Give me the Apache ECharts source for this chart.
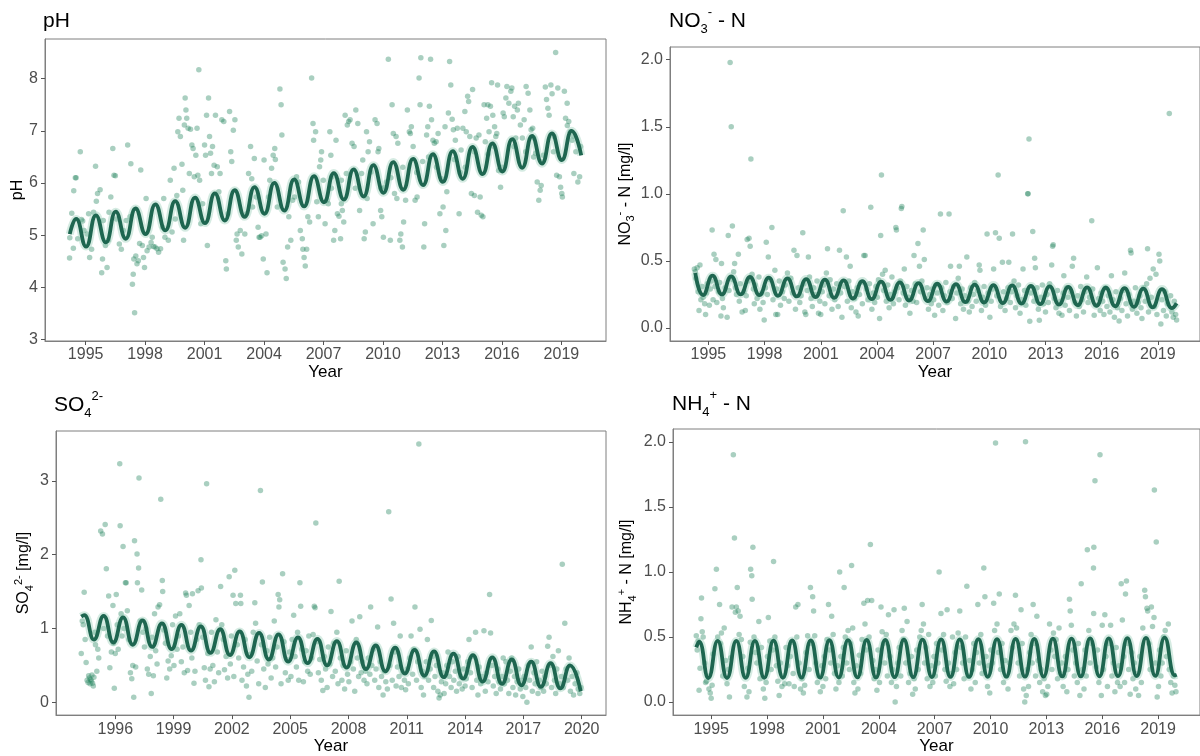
<!DOCTYPE html>
<html><head><meta charset="utf-8">
<script src="https://cdn.jsdelivr.net/npm/echarts@6/dist/echarts.min.js"></script>
<style>html,body{margin:0;padding:0;background:#fff}#c{width:1200px;height:756px}</style>
</head><body><div id="c"></div>
<script>
// ---------- tick labels ----------
const xTicksA = [1995,1998,2001,2004,2007,2010,2013,2016,2019];
const xTicksB = [1996,1999,2002,2005,2008,2011,2014,2017,2020];
const phTicks = [3,4,5,6,7,8];
const no3Ticks = [0,0.5,1,1.5,2];
const so4Ticks = [0,1,2,3];
const nh4Ticks = [0,0.5,1,1.5,2];

// ---------- pH ----------
const phPts = [[1994.19,4.56],[1994.2,4.95],[1994.3,5.42],[1994.4,5.85],[1994.48,6.1],[1994.52,6.1],[1994.38,4.75],[1994.6,4.93],[1994.73,6.6],[1994.79,5.3],[1994.85,5.27],[1994.92,5.09],[1995.08,5.02],[1995.2,4.57],[1995.3,4.73],[1995.15,5.41],[1995.4,5.44],[1995.5,6.32],[1995.54,5.65],[1995.6,5.8],[1995.73,5.87],[1995.85,4.54],[1995.81,4.28],[1995.89,5.28],[1996.0,4.8],[1996.08,4.38],[1996.14,4.9],[1996.18,5.44],[1996.27,5.73],[1996.37,6.66],[1996.43,6.15],[1996.5,6.14],[1996.56,5.31],[1996.7,4.83],[1996.8,4.73],[1996.9,5.09],[1997.12,6.73],[1997.05,5.28],[1997.24,5.35],[1997.28,6.37],[1997.36,4.06],[1997.4,4.25],[1997.43,4.54],[1997.47,3.51],[1997.53,4.6],[1997.59,4.45],[1997.66,4.51],[1997.72,4.84],[1997.78,6.25],[1997.86,4.8],[1997.92,4.57],[1997.97,4.38],[1998.05,5.7],[1998.1,4.7],[1998.2,4.77],[1998.3,4.86],[1998.36,4.96],[1998.42,4.78],[1998.5,4.77],[1998.6,4.74],[1998.68,4.67],[1998.78,4.74],[1998.88,5.15],[1998.94,5.7],[1999.0,4.96],[1999.17,4.9],[1999.27,6.05],[1999.36,5.06],[1999.46,6.28],[1999.52,5.31],[1999.6,5.76],[1999.65,6.98],[1999.71,7.24],[1999.78,6.89],[1999.86,6.36],[1999.9,5.86],[1999.94,4.9],[1999.98,7.11],[2000.02,7.63],[2000.06,7.4],[2000.1,7.24],[2000.17,7.05],[2000.23,6.18],[2000.29,7.03],[2000.36,6.73],[2000.42,6.66],[2000.48,6.12],[2000.56,6.53],[2000.62,7.05],[2000.66,6.15],[2000.71,8.17],[2000.75,6.05],[2000.81,5.22],[2000.9,5.6],[2001.0,6.73],[2001.05,6.53],[2001.1,7.3],[2001.14,4.8],[2001.2,7.63],[2001.25,6.89],[2001.3,6.57],[2001.35,6.18],[2001.4,6.7],[2001.48,6.34],[2001.55,7.3],[2001.64,6.31],[2001.72,5.83],[2001.78,6.18],[2001.87,7.21],[2001.97,7.18],[2002.07,4.51],[2002.1,4.35],[2002.18,5.41],[2002.26,7.37],[2002.32,6.6],[2002.37,6.41],[2002.45,7.01],[2002.53,7.21],[2002.6,4.9],[2002.64,5.02],[2002.7,4.77],[2002.8,5.09],[2002.88,4.64],[2003.03,5.02],[2003.12,5.41],[2003.22,6.18],[2003.32,6.7],[2003.38,6.08],[2003.42,5.54],[2003.51,6.47],[2003.61,5.73],[2003.7,5.15],[2003.75,4.96],[2003.8,4.96],[2003.88,4.99],[2003.96,4.54],[2004.0,6.44],[2004.1,5.02],[2004.15,4.28],[2004.23,5.73],[2004.29,6.05],[2004.38,6.28],[2004.46,6.53],[2004.54,6.66],[2004.57,6.45],[2004.67,5.54],[2004.8,7.8],[2004.86,7.5],[2004.9,6.92],[2004.96,4.48],[2005.06,4.35],[2005.12,4.17],[2005.19,4.77],[2005.25,5.35],[2005.35,4.9],[2005.44,5.67],[2005.54,5.73],[2005.64,6.12],[2005.74,6.02],[2005.83,5.09],[2005.93,4.93],[2005.96,4.73],[2006.02,4.57],[2006.08,4.41],[2006.15,4.73],[2006.21,5.35],[2006.3,5.25],[2006.4,8.01],[2006.47,7.14],[2006.5,6.82],[2006.6,6.98],[2006.66,5.64],[2006.74,5.35],[2006.8,6.31],[2006.86,6.44],[2006.9,6.6],[2006.99,6.05],[2007.08,5.22],[2007.18,5.67],[2007.24,5.6],[2007.32,6.98],[2007.37,6.53],[2007.43,6.12],[2007.51,4.9],[2007.57,5.09],[2007.63,6.82],[2007.7,5.41],[2007.78,5.36],[2007.86,4.93],[2007.9,6.05],[2007.95,5.47],[2008.02,5.25],[2008.09,7.3],[2008.15,6.18],[2008.2,7.11],[2008.27,7.18],[2008.34,7.21],[2008.44,6.76],[2008.54,6.7],[2008.63,7.4],[2008.73,7.14],[2008.82,5.47],[2008.92,6.18],[2008.98,6.44],[2009.05,4.93],[2009.11,5.06],[2009.17,6.98],[2009.25,6.6],[2009.32,6.79],[2009.4,6.21],[2009.5,5.22],[2009.6,7.21],[2009.7,7.14],[2009.75,6.6],[2009.79,6.66],[2009.88,5.47],[2009.94,5.35],[2010.02,4.96],[2010.08,5.92],[2010.18,6.02],[2010.27,8.37],[2010.37,4.9],[2010.46,7.5],[2010.52,6.95],[2010.58,5.8],[2010.66,6.89],[2010.75,6.76],[2010.85,4.9],[2010.9,5.02],[2010.98,4.77],[2011.04,5.25],[2011.14,5.67],[2011.23,7.4],[2011.33,6.98],[2011.38,6.95],[2011.43,7.08],[2011.52,6.7],[2011.62,5.67],[2011.72,5.73],[2011.82,8.01],[2011.87,7.5],[2011.91,8.4],[2012.0,6.41],[2012.06,4.77],[2012.1,5.22],[2012.2,6.92],[2012.26,7.08],[2012.34,7.47],[2012.4,8.37],[2012.45,7.21],[2012.52,6.82],[2012.59,6.76],[2012.68,6.79],[2012.78,6.95],[2012.87,5.41],[2012.96,6.08],[2013.03,5.54],[2013.07,4.8],[2013.13,7.08],[2013.17,5.09],[2013.22,5.83],[2013.3,7.34],[2013.36,8.33],[2013.42,7.88],[2013.49,7.22],[2013.55,7.02],[2013.65,6.82],[2013.75,7.05],[2013.84,5.41],[2013.94,6.63],[2014.03,7.05],[2014.13,7.37],[2014.2,6.98],[2014.27,7.66],[2014.32,7.56],[2014.38,6.89],[2014.46,5.8],[2014.52,7.79],[2014.61,5.76],[2014.7,6.86],[2014.77,5.44],[2014.84,6.92],[2014.9,5.73],[2014.96,5.38],[2015.04,5.35],[2015.1,7.5],[2015.16,6.79],[2015.23,7.24],[2015.29,7.5],[2015.35,6.98],[2015.42,7.47],[2015.48,7.92],[2015.54,7.3],[2015.63,7.08],[2015.69,6.89],[2015.74,6.95],[2015.78,7.88],[2015.83,6.24],[2015.93,5.92],[2016.06,7.34],[2016.12,7.27],[2016.2,7.63],[2016.25,7.85],[2016.35,7.53],[2016.45,7.76],[2016.5,7.82],[2016.57,7.27],[2016.64,7.47],[2016.7,6.86],[2016.78,7.4],[2016.83,7.53],[2016.93,7.11],[2017.03,6.86],[2017.12,7.21],[2017.22,7.85],[2017.32,7.72],[2017.41,7.4],[2017.47,7.02],[2017.55,7.05],[2017.61,6.86],[2017.7,6.57],[2017.78,6.02],[2017.86,5.67],[2017.93,5.86],[2017.98,5.95],[2018.09,6.53],[2018.19,7.84],[2018.25,7.6],[2018.32,7.43],[2018.38,7.3],[2018.47,7.88],[2018.53,7.71],[2018.63,6.89],[2018.71,8.5],[2018.76,6.15],[2018.82,7.82],[2018.9,6.12],[2018.96,5.92],[2019.02,5.8],[2019.05,5.73],[2019.15,7.76],[2019.21,7.24],[2019.29,7.53],[2019.37,7.18],[2019.44,6.98],[2019.54,6.82],[2019.63,6.18],[2019.73,6.6],[2019.83,6.02],[2019.92,6.12],[2019.97,6.7],[2010.4,6.1],[2011.0,6.3],[2011.7,6.2],[2012.3,6.5],[2012.7,6.3],[2013.6,6.45],[2013.9,6.2],[2014.6,6.6],[2014.15,6.3],[2015.3,6.55],[2015.6,6.7],[2016.0,6.3],[2016.6,6.7],[2017.2,6.6],[2017.6,6.5],[2018.0,6.4],[2018.6,6.6],[2019.3,7.1],[2019.6,6.9],[2009.2,5.7],[2009.9,5.9],[2010.7,5.7],[2008.6,5.9],[2007.9,5.6],[2007.4,5.9]];
const phFit = [[1994.2,5.02],[1994.52,5.31],[1995.02,4.78],[1995.52,5.38],[1996.02,4.86],[1996.52,5.45],[1997.02,4.93],[1997.52,5.51],[1998.02,5.02],[1998.52,5.59],[1999.02,5.09],[1999.52,5.65],[2000.02,5.14],[2000.52,5.72],[2001.02,5.23],[2001.52,5.8],[2002.02,5.28],[2002.52,5.86],[2003.02,5.35],[2003.52,5.92],[2004.02,5.41],[2004.52,6.0],[2005.02,5.47],[2005.52,6.07],[2006.02,5.55],[2006.52,6.13],[2007.02,5.63],[2007.52,6.19],[2008.02,5.68],[2008.52,6.26],[2009.02,5.74],[2009.52,6.34],[2010.02,5.81],[2010.52,6.4],[2011.02,5.87],[2011.52,6.46],[2012.02,5.96],[2012.52,6.55],[2013.02,6.02],[2013.52,6.61],[2014.02,6.08],[2014.52,6.69],[2015.02,6.17],[2015.52,6.76],[2016.02,6.22],[2016.52,6.84],[2017.02,6.29],[2017.52,6.9],[2018.02,6.37],[2018.52,6.95],[2019.02,6.44],[2019.52,7.0],[2020.0,6.53]];

// ---------- NO3- - N ----------
const no3Pts = [[1994.25,0.44],[1994.3,0.42],[1994.33,0.37],[1994.4,0.45],[1994.45,0.27],[1994.5,0.13],[1994.55,0.47],[1994.6,0.21],[1994.67,0.31],[1994.72,0.23],[1994.8,0.18],[1994.85,0.1],[1994.9,0.26],[1994.95,0.33],
[1995.05,0.17],[1995.1,0.29],[1995.15,0.35],[1995.2,0.73],[1995.25,0.21],[1995.3,0.55],[1995.35,0.31],[1995.4,0.51],[1995.45,0.19],[1995.55,0.27],[1995.6,0.34],[1995.67,0.09],[1995.7,0.48],[1995.75,0.22],[1995.8,0.15],[1995.9,0.3],
[1996.0,0.08],[1996.06,0.69],[1996.1,0.28],[1996.16,1.98],[1996.22,1.5],[1996.28,0.76],[1996.3,0.36],[1996.35,0.42],[1996.4,0.48],[1996.45,0.3],[1996.5,0.25],[1996.6,0.55],[1996.65,0.2],[1996.7,0.33],[1996.8,0.12],[1996.9,0.27],[1996.97,0.13],
[1997.02,0.24],[1997.07,0.66],[1997.12,0.35],[1997.17,0.67],[1997.23,0.61],[1997.27,1.26],[1997.33,0.4],[1997.4,0.29],[1997.45,0.18],[1997.5,0.32],[1997.6,0.22],[1997.7,0.38],[1997.75,0.14],[1997.85,0.26],[1997.92,0.19],[1997.98,0.06],
[1998.05,0.3],[1998.09,0.64],[1998.15,0.25],[1998.2,0.53],[1998.3,0.36],[1998.39,0.75],[1998.45,0.21],[1998.55,0.43],[1998.6,0.1],[1998.65,0.29],[1998.7,0.1],[1998.78,0.35],[1998.85,0.17],[1998.95,0.27],
[1999.05,0.22],[1999.1,0.32],[1999.22,0.41],[1999.3,0.2],[1999.4,0.37],[1999.5,0.26],[1999.57,0.58],[1999.65,0.14],[1999.73,0.54],[1999.8,0.3],[1999.88,0.19],[1999.95,0.24],
[2000.04,0.71],[2000.1,0.33],[2000.15,0.12],[2000.2,0.1],[2000.28,0.28],[2000.34,0.53],[2000.4,0.38],[2000.48,0.22],[2000.55,0.16],[2000.62,0.3],[2000.7,0.25],[2000.8,0.35],[2000.88,0.11],[2000.95,0.2],
[2001.0,0.1],[2001.08,0.27],[2001.15,0.32],[2001.22,0.18],[2001.3,0.41],[2001.36,0.59],[2001.45,0.24],[2001.5,0.36],[2001.6,0.14],[2001.68,0.29],[2001.75,0.21],[2001.85,0.33],[2001.93,0.16],
[2002.0,0.58],[2002.06,0.26],[2002.13,0.08],[2002.2,0.875],[2002.27,0.31],[2002.37,0.53],[2002.42,0.2],[2002.5,0.35],[2002.57,0.46],[2002.63,0.15],[2002.7,0.27],[2002.8,0.22],[2002.88,0.12],[2002.95,0.3],
[2003.0,0.09],[2003.07,0.25],[2003.15,0.34],[2003.22,0.18],[2003.3,0.54],[2003.37,0.54],[2003.45,0.29],[2003.52,0.21],[2003.6,0.33],[2003.67,0.9],[2003.73,0.14],[2003.8,0.26],[2003.88,0.19],[2003.95,0.31],
[2004.02,0.23],[2004.08,0.36],[2004.14,0.07],[2004.2,0.69],[2004.24,1.14],[2004.3,0.4],[2004.36,0.28],[2004.44,0.43],[2004.5,0.2],[2004.58,0.32],[2004.65,0.15],[2004.72,0.25],[2004.8,0.38],[2004.88,0.18],[2004.95,0.27],
[2005.01,0.75],[2005.04,0.73],[2005.1,0.3],[2005.18,0.21],[2005.25,0.35],[2005.3,0.89],[2005.33,0.905],[2005.4,0.26],[2005.46,0.44],[2005.52,0.17],[2005.6,0.31],[2005.68,0.23],[2005.76,0.11],[2005.84,0.28],[2005.92,0.2],[2005.98,0.54],
[2006.05,0.33],[2006.12,0.19],[2006.19,0.63],[2006.27,0.46],[2006.33,0.27],[2006.4,0.35],[2006.47,0.73],[2006.53,0.51],[2006.6,0.22],[2006.68,0.3],[2006.75,0.14],[2006.82,0.25],[2006.9,0.18],[2006.96,0.29],
[2007.03,0.21],[2007.08,0.095],[2007.15,0.32],[2007.22,0.26],[2007.3,0.17],[2007.39,0.85],[2007.45,0.3],[2007.52,0.13],[2007.6,0.24],[2007.68,0.34],[2007.75,0.19],[2007.85,0.85],[2007.9,0.27],[2007.93,0.46],
[2008.02,0.22],[2008.1,0.31],[2008.2,0.07],[2008.27,0.26],[2008.34,0.37],[2008.4,0.46],[2008.47,0.18],[2008.55,0.29],[2008.62,0.14],[2008.7,0.24],[2008.8,0.53],[2008.86,0.2],[2008.93,0.12],
[2009.0,0.3],[2009.08,0.16],[2009.15,0.25],[2009.22,0.34],[2009.3,0.2],[2009.38,0.28],[2009.46,0.47],[2009.5,0.43],[2009.58,0.13],[2009.65,0.23],[2009.72,0.31],[2009.8,0.17],[2009.88,0.7],[2009.95,0.26],
[2010.03,0.08],[2010.1,0.2],[2010.17,0.29],[2010.23,0.44],[2010.33,0.71],[2010.4,0.24],[2010.47,1.14],[2010.53,0.67],[2010.6,0.16],[2010.7,0.49],[2010.76,0.27],[2010.84,0.13],[2010.92,0.22],
[2011.0,0.3],[2011.04,0.49],[2011.12,0.19],[2011.2,0.27],[2011.24,0.7],[2011.32,0.35],[2011.4,0.15],[2011.48,0.24],[2011.56,0.32],[2011.64,0.11],[2011.72,0.21],[2011.8,0.44],[2011.88,0.28],[2011.95,0.17],
[2012.05,1.0],[2012.07,1.0],[2012.12,1.41],[2012.16,0.05],[2012.22,0.26],[2012.32,0.72],[2012.38,0.2],[2012.42,0.52],[2012.46,0.45],[2012.55,0.3],[2012.62,0.14],[2012.67,0.057],[2012.75,0.23],[2012.83,0.32],[2012.9,0.18],
[2013.0,0.12],[2013.08,0.25],[2013.15,0.19],[2013.22,0.33],[2013.33,0.47],[2013.38,0.61],[2013.41,0.62],[2013.48,0.22],[2013.56,0.15],[2013.64,0.28],[2013.72,0.11],[2013.8,0.2],[2013.88,0.095],[2013.95,0.26],[2013.98,0.39],
[2014.05,0.17],[2014.12,0.3],[2014.2,0.23],[2014.28,0.13],[2014.36,0.27],[2014.43,0.46],[2014.5,0.52],[2014.58,0.19],[2014.65,0.09],[2014.72,0.24],[2014.8,0.16],[2014.88,0.31],[2014.95,0.21],
[2015.03,0.12],[2015.1,0.27],[2015.2,0.38],[2015.27,0.19],[2015.35,0.23],[2015.47,0.8],[2015.52,0.29],[2015.6,0.095],[2015.68,0.17],[2015.77,0.45],[2015.84,0.22],[2015.92,0.13],[2015.97,0.26],
[2016.05,0.2],[2016.12,0.1],[2016.2,0.3],[2016.28,0.16],[2016.36,0.24],[2016.44,0.12],[2016.52,0.39],[2016.6,0.21],[2016.68,0.08],[2016.76,0.27],[2016.84,0.15],[2016.93,0.052],
[2017.0,0.22],[2017.08,0.13],[2017.16,0.28],[2017.23,0.41],[2017.3,0.18],[2017.38,0.09],[2017.45,0.25],[2017.54,0.58],[2017.57,0.56],[2017.64,0.14],[2017.72,0.2],[2017.8,0.3],[2017.88,0.11],[2017.95,0.19],
[2018.04,0.24],[2018.1,0.15],[2018.15,0.07],[2018.25,0.3],[2018.32,0.2],[2018.4,0.33],[2018.45,0.59],[2018.5,0.12],[2018.58,0.37],[2018.65,0.23],[2018.75,0.44],[2018.82,0.16],[2018.9,0.4],[2018.95,0.1],
[2019.06,0.55],[2019.1,0.5],[2019.16,0.03],[2019.22,0.21],[2019.3,0.13],[2019.38,0.27],[2019.45,0.09],[2019.52,0.18],[2019.61,1.6],[2019.68,0.24],[2019.75,0.12],[2019.82,0.08],[2019.88,0.2],[2019.95,0.1],[2020.0,0.06]];
const no3Fit = [[1994.3,0.41],[1994.72,0.245],[1995.22,0.39],[1995.72,0.25],[1996.22,0.385],[1996.72,0.25],[1997.22,0.38],[1997.72,0.245],[1998.22,0.375],[1998.72,0.24],[1999.22,0.37],[1999.72,0.235],[2000.22,0.365],[2000.72,0.23],[2001.22,0.36],[2001.72,0.225],[2002.22,0.355],[2002.72,0.22],[2003.22,0.35],[2003.72,0.215],[2004.22,0.345],[2004.72,0.21],[2005.22,0.34],[2005.72,0.205],[2006.22,0.335],[2006.72,0.2],[2007.22,0.33],[2007.72,0.197],[2008.22,0.327],[2008.72,0.193],[2009.22,0.323],[2009.72,0.19],[2010.22,0.32],[2010.72,0.186],[2011.22,0.317],[2011.72,0.182],[2012.22,0.313],[2012.72,0.178],[2013.22,0.31],[2013.72,0.174],[2014.22,0.307],[2014.72,0.17],[2015.22,0.303],[2015.72,0.166],[2016.22,0.3],[2016.72,0.162],[2017.22,0.297],[2017.72,0.158],[2018.22,0.294],[2018.72,0.154],[2019.22,0.29],[2019.75,0.148],[2020.0,0.185]];

// ---------- SO4 2- ----------
const so4Pts = [[1994.25,0.66],[1994.3,1.1],[1994.35,1.05],[1994.4,1.49],[1994.45,0.85],[1994.5,0.54],[1994.55,0.3],[1994.6,0.27],[1994.63,0.36],[1994.67,0.33],[1994.7,0.25],[1994.73,0.31],[1994.77,0.29],[1994.8,0.37],[1994.83,0.26],[1994.87,0.22],[1994.9,0.34],[1994.95,0.95],[1994.98,0.78],
[1995.05,0.42],[1995.1,0.72],[1995.15,0.6],[1995.25,2.32],[1995.34,2.28],[1995.4,1.0],[1995.48,2.41],[1995.54,1.81],[1995.6,0.9],[1995.66,1.44],[1995.72,0.47],[1995.8,0.68],[1995.88,1.31],[1995.95,0.19],[1995.9,0.8],
[1996.0,0.66],[1996.05,1.46],[1996.1,1.05],[1996.15,0.72],[1996.23,3.23],[1996.25,2.39],[1996.3,1.2],[1996.35,0.9],[1996.4,2.11],[1996.45,1.0],[1996.52,1.62],[1996.56,1.62],[1996.62,1.24],[1996.7,0.85],[1996.78,0.4],[1996.85,0.32],[1996.9,0.5],[1996.95,0.07],[1996.99,2.19],
[1997.05,0.48],[1997.12,2.01],[1997.14,1.62],[1997.2,1.82],[1997.22,3.04],[1997.28,1.1],[1997.36,1.52],[1997.42,0.95],[1997.5,0.75],[1997.58,1.0],[1997.65,0.45],[1997.72,0.38],[1997.8,0.62],[1997.85,0.12],[1997.9,0.88],[1997.96,0.36],
[1998.02,1.2],[1998.08,0.7],[1998.15,0.52],[1998.2,1.29],[1998.28,1.32],[1998.34,2.75],[1998.42,1.65],[1998.44,1.5],[1998.5,0.98],[1998.58,0.8],[1998.65,0.33],[1998.72,0.56],[1998.8,0.45],[1998.88,0.63],[1998.95,1.05],
[1999.02,0.5],[1999.1,1.17],[1999.18,0.72],[1999.25,0.9],[1999.32,1.2],[1999.4,0.55],[1999.48,0.75],[1999.55,0.4],[1999.62,1.48],[1999.66,1.45],[1999.72,0.43],[1999.8,1.31],[1999.88,0.95],[1999.94,0.6],[1999.97,1.47],
[2000.05,0.26],[2000.1,0.42],[2000.18,0.85],[2000.26,1.51],[2000.32,1.05],[2000.41,1.93],[2000.43,1.55],[2000.5,0.88],[2000.58,0.47],[2000.64,0.3],[2000.7,2.96],[2000.76,0.66],[2000.82,0.21],[2000.88,0.45],[2000.95,0.95],
[2001.02,0.5],[2001.1,0.28],[2001.18,1.12],[2001.25,0.68],[2001.32,0.4],[2001.42,1.57],[2001.48,1.05],[2001.56,0.85],[2001.62,0.44],[2001.7,0.62],[2001.78,0.33],[2001.86,1.7],[2001.92,0.52],[2001.97,0.9],
[2002.06,1.45],[2002.1,0.35],[2002.15,1.79],[2002.2,1.34],[2002.28,0.78],[2002.35,0.6],[2002.44,1.45],[2002.46,1.34],[2002.52,0.3],[2002.6,0.48],[2002.68,0.85],[2002.75,0.22],[2002.82,0.38],[2002.88,0.07],[2002.95,0.65],
[2003.02,0.42],[2003.1,0.95],[2003.18,1.35],[2003.22,1.07],[2003.3,0.56],[2003.38,0.25],[2003.47,2.87],[2003.52,0.78],[2003.57,1.63],[2003.64,0.45],[2003.72,0.2],[2003.8,0.7],[2003.86,0.52],[2003.94,0.88],
[2004.02,0.33],[2004.1,0.6],[2004.18,1.1],[2004.25,0.48],[2004.32,0.75],[2004.38,1.46],[2004.42,1.29],[2004.46,1.39],[2004.53,0.25],[2004.61,1.74],[2004.68,0.82],[2004.75,0.4],[2004.82,0.58],[2004.9,0.3],[2004.96,0.68],
[2005.04,0.35],[2005.1,0.85],[2005.18,1.18],[2005.25,0.62],[2005.32,0.48],[2005.38,0.95],[2005.44,0.3],[2005.5,1.62],[2005.54,1.3],[2005.6,0.72],[2005.68,0.28],[2005.75,0.55],[2005.82,0.7],[2005.9,0.42],[2005.96,0.9],
[2006.03,0.38],[2006.1,0.6],[2006.18,0.92],[2006.24,1.3],[2006.28,1.28],[2006.32,2.43],[2006.38,0.82],[2006.45,0.4],[2006.52,0.58],[2006.6,0.3],[2006.68,0.16],[2006.75,0.62],[2006.82,0.45],[2006.9,0.2],[2006.96,0.75],
[2007.04,0.52],[2007.1,1.23],[2007.18,0.35],[2007.25,0.8],[2007.32,0.42],[2007.4,0.95],[2007.46,0.25],[2007.52,1.64],[2007.58,0.6],[2007.66,0.3],[2007.73,0.5],[2007.8,0.18],[2007.88,0.7],[2007.95,0.38],
[2008.02,0.28],[2008.1,0.55],[2008.18,1.1],[2008.25,0.45],[2008.32,0.15],[2008.4,0.85],[2008.46,0.6],[2008.52,0.35],[2008.58,1.16],[2008.65,0.4],[2008.72,0.55],[2008.8,0.3],[2008.88,0.42],[2008.95,0.25],
[2009.02,0.6],[2009.1,0.38],[2009.14,1.29],[2009.2,0.5],[2009.28,0.72],[2009.35,0.3],[2009.42,0.45],[2009.5,1.02],[2009.56,0.2],[2009.64,0.55],[2009.7,0.35],[2009.78,0.1],[2009.85,0.42],[2009.92,0.28],
[2010.0,0.18],[2010.07,2.58],[2010.12,0.5],[2010.19,1.4],[2010.25,0.3],[2010.32,1.07],[2010.38,0.68],[2010.45,0.22],[2010.52,0.48],[2010.6,0.35],[2010.66,0.9],[2010.72,0.2],[2010.8,0.4],[2010.88,0.3],[2010.94,0.17],
[2011.02,0.45],[2011.08,0.25],[2011.15,0.6],[2011.22,0.9],[2011.3,0.38],[2011.36,0.72],[2011.42,1.29],[2011.5,0.3],[2011.56,0.55],[2011.62,3.5],[2011.68,0.99],[2011.74,0.2],[2011.8,0.42],[2011.86,0.1],[2011.92,0.35],
[2012.0,0.55],[2012.06,0.85],[2012.12,0.3],[2012.2,0.45],[2012.26,1.11],[2012.32,0.62],[2012.38,0.2],[2012.45,0.35],[2012.52,0.5],[2012.6,0.15],[2012.66,0.06],[2012.72,0.1],[2012.78,0.28],[2012.85,0.4],[2012.92,0.12],
[2013.0,0.25],[2013.06,0.5],[2013.12,0.68],[2013.2,0.35],[2013.28,0.2],[2013.35,0.55],[2013.42,0.3],[2013.5,0.42],[2013.56,0.15],[2013.64,0.62],[2013.7,0.25],[2013.78,0.35],[2013.85,0.18],[2013.92,0.45],
[2014.0,0.22],[2014.06,0.32],[2014.14,0.55],[2014.2,0.85],[2014.28,0.4],[2014.36,0.2],[2014.44,0.62],[2014.54,0.95],[2014.6,0.3],[2014.66,0.1],[2014.72,0.48],[2014.8,0.25],[2014.88,0.35],[2014.97,0.97],
[2015.04,0.15],[2015.1,0.4],[2015.18,0.28],[2015.26,1.46],[2015.31,0.94],[2015.38,0.5],[2015.45,0.22],[2015.52,0.35],[2015.6,0.12],[2015.68,0.45],[2015.75,0.28],[2015.82,0.18],[2015.9,0.35],[2015.96,0.6],
[2016.02,0.25],[2016.1,0.55],[2016.18,0.3],[2016.25,0.12],[2016.32,0.42],[2016.4,0.6],[2016.46,0.2],[2016.54,0.35],[2016.6,0.1],[2016.68,0.28],[2016.76,0.45],[2016.84,0.18],[2016.9,0.3],[2016.97,0.08],
[2017.04,0.35],[2017.12,0.2],[2017.18,0.0],[2017.25,0.5],[2017.32,0.3],[2017.4,0.75],[2017.46,0.15],[2017.54,0.4],[2017.6,0.25],[2017.68,0.55],[2017.75,0.12],[2017.82,0.3],[2017.9,0.2],[2017.96,0.42],
[2018.04,0.15],[2018.1,0.35],[2018.18,0.25],[2018.25,0.76],[2018.32,0.88],[2018.38,0.5],[2018.45,0.2],[2018.52,0.62],[2018.6,0.3],[2018.66,0.12],[2018.72,0.45],[2018.8,0.7],[2018.88,0.25],[2018.95,0.35],
[2019.0,1.87],[2019.05,0.2],[2019.13,1.07],[2019.2,0.45],[2019.28,0.3],[2019.35,0.6],[2019.42,0.15],[2019.5,0.35],[2019.58,0.1],[2019.66,0.25],[2019.75,0.4],[2019.82,0.18],[2019.9,0.12],[2019.96,0.2]];
const so4Fit = [[1994.25,1.16],[1994.4,1.18],[1994.9,0.85],[1995.4,1.17],[1995.9,0.81],[1996.4,1.15],[1996.9,0.78],[1997.4,1.11],[1997.9,0.75],[1998.4,1.07],[1998.9,0.72],[1999.4,1.05],[1999.9,0.7],[2000.4,1.03],[2000.9,0.67],[2001.4,0.99],[2001.9,0.64],[2002.4,0.96],[2002.9,0.61],[2003.4,0.94],[2003.9,0.58],[2004.4,0.92],[2004.9,0.55],[2005.4,0.88],[2005.9,0.53],[2006.4,0.86],[2006.9,0.5],[2007.4,0.83],[2007.9,0.47],[2008.4,0.81],[2008.9,0.45],[2009.4,0.77],[2009.9,0.42],[2010.4,0.74],[2010.9,0.39],[2011.4,0.71],[2011.9,0.36],[2012.4,0.69],[2012.9,0.34],[2013.4,0.66],[2013.9,0.32],[2014.4,0.64],[2014.9,0.28],[2015.4,0.61],[2015.9,0.25],[2016.4,0.58],[2016.9,0.23],[2017.4,0.55],[2017.9,0.21],[2018.4,0.53],[2018.9,0.19],[2019.4,0.5],[2019.95,0.15]];

// ---------- NH4+ - N ----------
const nh4Pts = [[1994.2,0.51],[1994.25,0.4],[1994.3,0.47],[1994.35,0.09],[1994.4,0.26],[1994.45,0.64],[1994.48,0.8],[1994.52,0.54],[1994.57,0.5],[1994.65,0.3],[1994.7,0.15],[1994.75,0.16],[1994.8,0.2],[1994.88,0.1],[1994.95,0.07],
[1995.0,0.03],[1995.05,0.13],[1995.1,0.37],[1995.2,0.87],[1995.28,1.02],[1995.35,0.5],[1995.45,0.75],[1995.5,0.45],[1995.55,0.53],[1995.62,0.2],[1995.7,0.57],[1995.78,0.32],[1995.85,0.14],[1995.92,0.25],[1995.98,0.04],
[1996.05,0.34],[1996.12,0.73],[1996.19,1.9],[1996.25,1.26],[1996.3,0.69],[1996.35,0.73],[1996.4,0.88],[1996.45,0.7],[1996.5,0.52],[1996.55,0.66],[1996.62,0.48],[1996.7,0.35],[1996.78,0.12],[1996.85,0.2],[1996.92,0.04],[1996.97,0.26],
[1997.03,0.08],[1997.1,0.46],[1997.12,1.02],[1997.18,0.97],[1997.2,0.79],[1997.24,1.19],[1997.3,0.5],[1997.38,0.38],[1997.45,0.3],[1997.56,0.62],[1997.62,0.18],[1997.7,0.42],[1997.8,0.1],[1997.88,0.03],[1997.95,0.15],
[1998.02,0.35],[1998.07,0.65],[1998.15,0.47],[1998.22,0.25],[1998.3,0.4],[1998.35,1.08],[1998.42,0.5],[1998.5,0.28],[1998.58,0.16],[1998.65,0.05],[1998.72,0.3],[1998.8,0.12],[1998.88,0.2],[1998.95,0.14],
[1999.02,0.42],[1999.1,0.28],[1999.18,0.14],[1999.25,0.35],[1999.32,0.46],[1999.4,0.22],[1999.46,0.12],[1999.54,0.73],[1999.6,0.5],[1999.66,0.75],[1999.72,0.3],[1999.8,0.1],[1999.88,0.18],[1999.95,0.07],
[2000.02,0.13],[2000.1,0.38],[2000.18,0.51],[2000.26,0.25],[2000.33,0.88],[2000.4,0.45],[2000.45,0.81],[2000.5,0.7],[2000.56,0.51],[2000.62,0.3],[2000.7,0.15],[2000.78,0.2],[2000.86,0.08],[2000.94,0.28],
[2001.0,0.12],[2001.08,0.35],[2001.15,0.18],[2001.22,0.48],[2001.3,0.75],[2001.36,0.4],[2001.42,0.3],[2001.47,0.66],[2001.55,0.52],[2001.62,0.22],[2001.7,0.1],[2001.78,0.28],[2001.86,0.15],[2001.9,1.0],[2001.96,0.35],
[2002.04,0.2],[2002.1,0.42],[2002.14,0.88],[2002.2,0.5],[2002.28,0.3],[2002.35,0.55],[2002.42,0.25],[2002.48,0.45],[2002.54,1.05],[2002.6,0.57],[2002.66,0.15],[2002.72,0.07],[2002.8,0.28],[2002.88,0.1],[2002.95,0.36],
[2003.02,0.22],[2003.1,0.48],[2003.2,0.76],[2003.26,0.6],[2003.32,0.4],[2003.4,0.78],[2003.48,0.5],[2003.55,1.21],[2003.62,0.78],[2003.68,0.32],[2003.75,0.18],[2003.82,0.25],[2003.9,0.09],[2003.96,0.4],
[2004.04,0.15],[2004.12,0.73],[2004.18,0.54],[2004.25,0.45],[2004.32,0.3],[2004.4,0.52],[2004.46,0.2],[2004.52,0.67],[2004.6,0.35],[2004.68,0.15],[2004.75,0.25],[2004.82,0.71],[2004.88,0.0],[2004.95,0.12],
[2005.02,0.3],[2005.1,0.42],[2005.18,0.2],[2005.25,0.55],[2005.32,0.48],[2005.37,0.72],[2005.45,0.3],[2005.52,0.62],[2005.6,0.15],[2005.68,0.22],[2005.75,0.35],[2005.82,0.06],[2005.9,0.18],[2005.96,0.1],
[2006.04,0.4],[2006.12,0.25],[2006.2,0.5],[2006.28,0.55],[2006.33,0.75],[2006.4,0.6],[2006.46,0.3],[2006.52,0.42],[2006.6,0.18],[2006.68,0.52],[2006.75,0.12],[2006.82,0.28],[2006.9,0.15],[2006.96,0.35],
[2007.04,0.2],[2007.1,0.45],[2007.18,0.3],[2007.24,1.0],[2007.34,0.68],[2007.4,0.4],[2007.48,0.52],[2007.55,0.25],[2007.62,0.16],[2007.67,0.71],[2007.74,0.3],[2007.82,0.12],[2007.9,0.22],[2007.96,0.5],
[2008.02,0.14],[2008.1,0.38],[2008.18,0.25],[2008.26,0.53],[2008.35,0.7],[2008.42,0.42],[2008.5,0.3],[2008.58,0.18],[2008.66,0.5],[2008.73,0.89],[2008.8,0.2],[2008.88,0.32],[2008.95,0.1],
[2009.02,0.25],[2009.1,0.45],[2009.18,0.15],[2009.25,0.38],[2009.32,0.75],[2009.4,0.3],[2009.48,0.52],[2009.55,0.22],[2009.64,1.03],[2009.7,0.81],[2009.76,0.35],[2009.84,0.12],[2009.9,0.28],[2009.96,0.07],
[2010.02,0.4],[2010.1,0.3],[2010.17,0.76],[2010.22,0.55],[2010.27,1.99],[2010.35,0.6],[2010.42,0.38],[2010.47,0.83],[2010.54,0.25],[2010.62,0.45],[2010.7,0.15],[2010.78,0.32],[2010.86,0.2],[2010.94,0.1],
[2011.02,0.3],[2011.1,0.55],[2011.18,0.42],[2011.26,0.6],[2011.34,0.82],[2011.4,0.57],[2011.48,0.3],[2011.56,0.2],[2011.64,0.71],[2011.7,0.45],[2011.78,0.1],[2011.84,0.0],[2011.88,2.0],[2011.92,0.05],[2011.97,0.25],
[2012.04,0.12],[2012.1,0.38],[2012.18,0.52],[2012.24,0.3],[2012.29,0.75],[2012.36,0.45],[2012.42,0.2],[2012.49,0.66],[2012.56,0.32],[2012.64,0.15],[2012.72,0.25],[2012.8,0.08],[2012.88,0.18],[2012.95,0.05],
[2013.02,0.06],[2013.08,0.12],[2013.17,0.6],[2013.24,0.4],[2013.3,0.25],[2013.38,0.53],[2013.45,0.35],[2013.52,0.48],[2013.6,0.18],[2013.68,0.57],[2013.75,0.22],[2013.82,0.3],[2013.9,0.12],[2013.96,0.2],
[2014.02,0.35],[2014.1,0.08],[2014.16,0.25],[2014.24,0.79],[2014.28,0.7],[2014.34,0.59],[2014.42,0.4],[2014.5,0.2],[2014.58,0.3],[2014.66,0.15],[2014.72,0.45],[2014.8,0.05],[2014.87,0.91],[2014.94,0.25],
[2015.02,0.1],[2015.08,0.4],[2015.14,0.2],[2015.2,1.17],[2015.28,0.55],[2015.35,0.3],[2015.42,0.45],[2015.53,1.03],[2015.55,1.19],[2015.54,0.68],[2015.61,1.7],[2015.68,0.27],[2015.75,0.4],[2015.82,0.15],[2015.88,1.9],[2015.95,0.05],
[2016.0,0.59],[2016.06,0.25],[2016.14,0.67],[2016.2,0.35],[2016.28,0.12],[2016.36,0.45],[2016.45,0.59],[2016.52,0.2],[2016.6,0.3],[2016.68,0.08],[2016.75,0.42],[2016.82,0.15],[2016.9,0.28],[2016.96,0.12],
[2017.02,0.91],[2017.08,0.63],[2017.15,0.35],[2017.2,0.15],[2017.25,0.83],[2017.3,0.93],[2017.36,0.45],[2017.42,0.25],[2017.5,0.06],[2017.58,0.38],[2017.65,0.18],[2017.72,0.3],[2017.8,0.1],[2017.88,0.22],[2017.95,0.05],
[2018.02,0.35],[2018.1,0.15],[2018.18,0.57],[2018.28,0.86],[2018.32,0.81],[2018.4,0.72],[2018.44,0.7],[2018.5,0.45],[2018.57,0.25],[2018.64,0.73],[2018.7,0.58],[2018.78,0.65],[2018.8,1.63],[2018.85,0.3],[2018.9,1.23],[2018.95,0.04],
[2019.02,0.12],[2019.08,0.4],[2019.15,0.2],[2019.22,0.3],[2019.3,0.5],[2019.38,0.55],[2019.45,0.35],[2019.55,0.6],[2019.6,0.25],[2019.68,0.15],[2019.75,0.07],[2019.82,0.2],[2019.9,0.13],[2019.96,0.08]];
const nh4Fit = [[1994.2,0.42],[1994.35,0.465],[1994.85,0.185],[1995.35,0.47],[1995.85,0.185],[1996.35,0.47],[1996.85,0.186],[1997.35,0.47],[1997.85,0.187],[1998.35,0.472],[1998.85,0.187],[1999.35,0.473],[1999.85,0.188],[2000.35,0.474],[2000.85,0.188],[2001.35,0.475],[2001.85,0.189],[2002.35,0.476],[2002.85,0.19],[2003.35,0.477],[2003.85,0.19],[2004.35,0.478],[2004.85,0.191],[2005.35,0.479],[2005.85,0.191],[2006.35,0.48],[2006.85,0.192],[2007.35,0.481],[2007.85,0.193],[2008.35,0.482],[2008.85,0.193],[2009.35,0.483],[2009.85,0.194],[2010.35,0.484],[2010.85,0.195],[2011.35,0.485],[2011.85,0.195],[2012.35,0.486],[2012.85,0.196],[2013.35,0.487],[2013.85,0.197],[2014.35,0.488],[2014.85,0.197],[2015.35,0.489],[2015.85,0.198],[2016.35,0.49],[2016.85,0.199],[2017.35,0.491],[2017.85,0.2],[2018.35,0.493],[2018.85,0.201],[2019.35,0.495],[2019.9,0.205],[2020.0,0.21]];

// ---------- layout & style ----------
const FONT = '"Liberation Sans", Arial, Helvetica, sans-serif';
const PT_COLOR = 'rgba(30,130,90,0.48)';
const LINE_COLOR = '#1e6650';
const BAND_COLOR = 'rgba(150,205,182,0.4)';
const BORDER = '#7f7f7f';

const titleRich = {
  t: {fontSize: 21, fontFamily: FONT, fontWeight: 'normal', color: '#000', lineHeight: 30},
  b: {fontSize: 13, fontFamily: FONT, fontWeight: 'normal', color: '#000', lineHeight: 13, verticalAlign: 'bottom'},
  p: {fontSize: 13, fontFamily: FONT, fontWeight: 'normal', color: '#000', lineHeight: 13, verticalAlign: 'top'}
};
const nameRich = {
  n: {fontSize: 16, fontFamily: FONT, color: '#000', lineHeight: 22},
  b: {fontSize: 11, fontFamily: FONT, color: '#000', lineHeight: 11, verticalAlign: 'bottom'},
  p: {fontSize: 11, fontFamily: FONT, color: '#000', lineHeight: 11, verticalAlign: 'top'}
};

const panels = [
  {pts: phPts, fit: phFit, xt: xTicksA, yt: phTicks, ymin: 2.97, ymax: 8.76, dec: 0,
   grid: {left: 45, top: 39, width: 561, height: 302},
   title: '{t|pH}', tl: 43, tt: 6, yname: '{n|pH}', gap: 15},
  {pts: no3Pts, fit: no3Fit, xt: xTicksA, yt: no3Ticks, ymin: -0.097, ymax: 2.095, dec: 1,
   grid: {left: 670, top: 47, width: 540, height: 294},
   title: '{t|NO}{b|3}{p|-}{t| - N}', tl: 669, tt: 6, yname: '{n|NO}{b|3}{p|-}{n| - N [mg/l]}', gap: 33},
  {pts: so4Pts, fit: so4Fit, xt: xTicksB, yt: so4Ticks, ymin: -0.173, ymax: 3.675, dec: 0,
   grid: {left: 56, top: 431, width: 550, height: 289},
   title: '{t|SO}{b|4}{p|2-}', tl: 54, tt: 390, yname: '{n|SO}{b|4}{p|2-}{n| [mg/l]}', gap: 21},
  {pts: nh4Pts, fit: nh4Fit, xt: xTicksA, yt: nh4Ticks, ymin: -0.1, ymax: 2.098, dec: 1,
   grid: {left: 673, top: 429, width: 537, height: 291},
   title: '{t|NH}{b|4}{p|+}{t| - N}', tl: 672, tt: 389, yname: '{n|NH}{b|4}{p|+}{n| - N [mg/l]}', gap: 35}
];

const option = {
  animation: false,
  backgroundColor: '#fff',
  title: panels.map(p => ({text: p.title, left: p.tl, top: p.tt, padding: 0,
    textStyle: {rich: titleRich, fontFamily: FONT, fontWeight: 'normal'}})),
  grid: panels.map(p => Object.assign({show: true, borderColor: BORDER, borderWidth: 1,
    backgroundColor: 'transparent'}, p.grid)),
  xAxis: panels.map((p, i) => ({
    type: 'value', gridIndex: i, min: 1992.95, max: 2021.25,
    splitLine: {show: false},
    axisLine: {show: true, onZero: false, lineStyle: {color: BORDER}},
    axisTick: {show: true, customValues: p.xt, length: 4, lineStyle: {color: '#555'}},
    axisLabel: {customValues: p.xt, color: '#4d4d4d', fontSize: 16, fontFamily: FONT, margin: 6,
      formatter: v => String(Math.round(v))},
    name: 'Year', nameLocation: 'middle', nameGap: 21,
    nameTextStyle: {color: '#000', fontSize: 17, fontFamily: FONT}
  })),
  yAxis: panels.map((p, i) => ({
    type: 'value', gridIndex: i, min: p.ymin, max: p.ymax,
    splitLine: {show: false},
    axisLine: {show: true, onZero: false, lineStyle: {color: BORDER}},
    axisTick: {show: true, customValues: p.yt, length: 4, lineStyle: {color: '#555'}},
    axisLabel: {customValues: p.yt, color: '#4d4d4d', fontSize: 16, fontFamily: FONT, margin: 7,
      formatter: v => Number(v).toFixed(p.dec)},
    name: p.yname, nameLocation: 'middle', nameGap: p.gap, nameRotate: 90,
    nameTextStyle: {rich: nameRich, fontFamily: FONT}
  })),
  series: panels.flatMap((p, i) => [
    {type: 'scatter', xAxisIndex: i, yAxisIndex: i, data: p.pts, symbolSize: 5.5,
     itemStyle: {color: PT_COLOR}, silent: true, z: 1},
    {type: 'line', xAxisIndex: i, yAxisIndex: i, data: p.fit, smooth: 0.5, showSymbol: false,
     lineStyle: {width: 8, color: BAND_COLOR}, silent: true, z: 2},
    {type: 'line', xAxisIndex: i, yAxisIndex: i, data: p.fit, smooth: 0.5, showSymbol: false,
     lineStyle: {width: 3.8, color: LINE_COLOR}, silent: true, z: 3}
  ])
};

const chart = echarts.init(document.getElementById('c'), null, {renderer: 'canvas'});
chart.setOption(option);
</script>
</body></html>
